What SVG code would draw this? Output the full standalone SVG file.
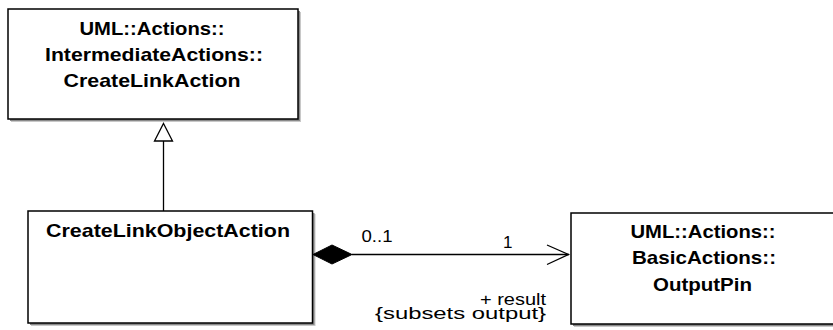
<svg xmlns="http://www.w3.org/2000/svg" width="833" height="330" viewBox="0 0 833 330">
<style>
.box{fill:#fff;stroke:#000;stroke-width:1.5}
.sh1{fill:#8a8a8a}
.sh2{fill:#c8c8c8}
.b{font-family:"Liberation Sans",Arial,sans-serif;font-weight:bold;font-size:18.5px;fill:#000;text-anchor:middle}
.r{font-family:"Liberation Sans",Arial,sans-serif;font-size:17px;fill:#000}
.ln{fill:none;stroke:#000;stroke-width:1.3}
</style>
<rect width="833" height="330" fill="#fff"/>
<g id="createLinkAction">
<rect class="sh2" x="11" y="12" width="290" height="110"/>
<rect class="sh1" x="10" y="11" width="290" height="110"/>
<rect class="box" x="8" y="9" width="290" height="110"/>
<text class="b" x="152" y="35" textLength="145" lengthAdjust="spacingAndGlyphs">UML::Actions::</text>
<text class="b" x="154" y="61" textLength="218" lengthAdjust="spacingAndGlyphs">IntermediateActions::</text>
<text class="b" x="152" y="87" textLength="177" lengthAdjust="spacingAndGlyphs">CreateLinkAction</text>
</g>
<g id="createLinkObjectAction">
<rect class="sh2" x="31" y="214" width="284.5" height="112"/>
<rect class="sh1" x="30" y="213" width="284.5" height="112"/>
<rect class="box" x="28" y="211" width="284.5" height="112"/>
<text class="b" x="168" y="237" textLength="244" lengthAdjust="spacingAndGlyphs">CreateLinkObjectAction</text>
</g>
<g id="outputPin">
<rect class="sh2" x="574" y="216" width="280" height="111"/>
<rect class="sh1" x="573" y="215" width="280" height="111"/>
<rect class="box" x="571" y="213" width="280" height="111"/>
<text class="b" x="703" y="238" textLength="145" lengthAdjust="spacingAndGlyphs">UML::Actions::</text>
<text class="b" x="704" y="264" textLength="144" lengthAdjust="spacingAndGlyphs">BasicActions::</text>
<text class="b" x="702.5" y="291" textLength="99" lengthAdjust="spacingAndGlyphs">OutputPin</text>
</g>
<g id="connectors">
<line class="ln" x1="163.5" y1="141" x2="163.5" y2="211"/>
<polygon points="163.5,123.5 172.5,141 154.5,141" fill="#fff" stroke="#000" stroke-width="1.3"/>
<line class="ln" x1="352" y1="254.5" x2="569" y2="254.5"/>
<polygon points="313,254.5 332,245 352,254.5 332,264" fill="#000" stroke="#000" stroke-width="1"/>
<polyline class="ln" points="547,245 568.5,254.5 547,264.5"/>
<text class="r" x="361.5" y="242" textLength="31" lengthAdjust="spacingAndGlyphs">0..1</text>
<text class="r" x="503" y="248">1</text>
<text class="r" x="546" y="305" text-anchor="end" textLength="66" lengthAdjust="spacingAndGlyphs">+ result</text>
<text class="r" x="546" y="319" text-anchor="end" textLength="171" lengthAdjust="spacingAndGlyphs">{subsets output}</text>
</g>
</svg>
